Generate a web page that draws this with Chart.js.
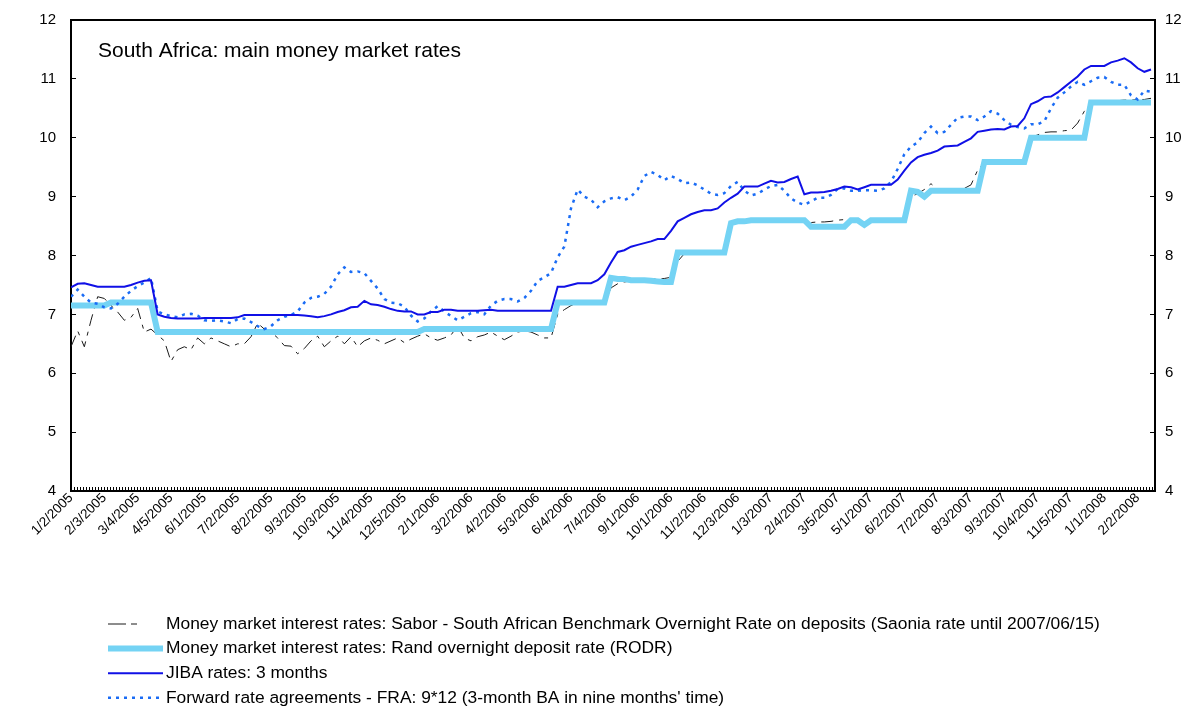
<!DOCTYPE html>
<html>
<head>
<meta charset="utf-8">
<script src="https://cdn.jsdelivr.net/npm/chart.js@4.4.0/dist/chart.umd.min.js"></script>
<style>
  html, body { margin: 0; padding: 0; background: #fff; }
  #wrap { width: 1188px; height: 707px; }
</style>
</head>
<body>
<div id="wrap"><canvas id="rates"></canvas></div>
<script>
// tick labels under the x axis (one every 5 weekly points)
const dateLabels = ["1/2/2005", "2/3/2005", "3/4/2005", "4/5/2005", "6/1/2005", "7/2/2005",
  "8/2/2005", "9/3/2005", "10/3/2005", "11/4/2005", "12/5/2005", "2/1/2006", "3/2/2006",
  "4/2/2006", "5/3/2006", "6/4/2006", "7/4/2006", "9/1/2006", "10/1/2006", "11/2/2006",
  "12/3/2006", "1/3/2007", "2/4/2007", "3/5/2007", "5/1/2007", "6/2/2007", "7/2/2007",
  "8/3/2007", "9/3/2007", "10/4/2007", "11/5/2007", "1/1/2008", "2/2/2008"];

const seriesNames = [
  "Money market interest rates: Sabor - South African Benchmark Overnight Rate on deposits (Saonia rate until 2007/06/15)",
  "Money market interest rates: Rand overnight deposit rate (RODR)",
  "JIBA rates: 3 months",
  "Forward rate agreements - FRA: 9*12 (3-month BA in nine months' time)"
];

const saborRate = [
  6.45, 6.72, 6.45, 6.9, 7.3, 7.27, 7.15, 7.04, 6.9, 6.95,
  7.1, 6.7, 6.75, 6.65, 6.55, 6.2, 6.4, 6.45, 6.4, 6.6,
  6.5, 6.6, 6.55, 6.5, 6.45, 6.5, 6.5, 6.62, 6.85, 6.75,
  6.7, 6.6, 6.47, 6.46, 6.33, 6.42, 6.55, 6.63, 6.45, 6.55,
  6.63, 6.5, 6.62, 6.45, 6.55, 6.6, 6.56, 6.5, 6.55, 6.6,
  6.52, 6.58, 6.63, 6.67, 6.6, 6.56, 6.6, 6.65, 6.8, 6.6,
  6.55, 6.62, 6.65, 6.7, 6.63, 6.57, 6.63, 6.7, 6.72, 6.7,
  6.65, 6.6, 6.6, 7.0, 7.08, 7.15, 7.2, 7.22, 7.23, 7.2,
  7.2, 7.45, 7.52, 7.55, 7.57, 7.57, 7.58, 7.6, 7.6, 7.61,
  7.63, 7.9, 8.03, 8.04, 8.05, 8.04, 8.05, 8.06, 8.05, 8.5,
  8.55, 8.58, 8.58, 8.6, 8.6, 8.6, 8.6, 8.59, 8.6, 8.6,
  8.58, 8.56, 8.57, 8.57, 8.58, 8.6, 8.61, 8.6, 8.58, 8.57,
  8.6, 8.6, 8.6, 8.6, 8.6, 8.6, 9.0, 9.05, 9.12, 9.22,
  9.12, 9.12, 9.12, 9.13, 9.14, 9.2, 9.45, 9.58, 9.6, 9.6,
  9.6, 9.6, 9.6, 9.62, 10.0, 10.05, 10.09, 10.1, 10.1, 10.12,
  10.13, 10.25, 10.45, 10.6, 10.62, 10.63, 10.63, 10.63, 10.64, 10.64,
  10.65, 10.65, 10.67
];

const rodrRate = [
  7.15, 7.15, 7.15, 7.15, 7.15, 7.15, 7.2, 7.2, 7.2, 7.2,
  7.2, 7.2, 7.2, 6.7, 6.7, 6.7, 6.7, 6.7, 6.7, 6.7,
  6.7, 6.7, 6.7, 6.7, 6.7, 6.7, 6.7, 6.7, 6.7, 6.7,
  6.7, 6.7, 6.7, 6.7, 6.7, 6.7, 6.7, 6.7, 6.7, 6.7,
  6.7, 6.7, 6.7, 6.7, 6.7, 6.7, 6.7, 6.7, 6.7, 6.7,
  6.7, 6.7, 6.7, 6.75, 6.75, 6.75, 6.75, 6.75, 6.75, 6.75,
  6.75, 6.75, 6.75, 6.75, 6.75, 6.75, 6.75, 6.75, 6.75, 6.75,
  6.75, 6.75, 6.75, 7.2, 7.2, 7.2, 7.2, 7.2, 7.2, 7.2,
  7.2, 7.62, 7.6, 7.6, 7.58, 7.58, 7.58, 7.57, 7.56, 7.55,
  7.55, 8.05, 8.05, 8.05, 8.05, 8.05, 8.05, 8.05, 8.05, 8.55,
  8.58, 8.58, 8.6, 8.6, 8.6, 8.6, 8.6, 8.6, 8.6, 8.6,
  8.6, 8.49, 8.49, 8.49, 8.49, 8.49, 8.49, 8.6, 8.6, 8.52,
  8.6, 8.6, 8.6, 8.6, 8.6, 8.6, 9.1, 9.08, 9.0, 9.1,
  9.1, 9.1, 9.1, 9.1, 9.1, 9.1, 9.1, 9.59, 9.59, 9.59,
  9.59, 9.59, 9.59, 9.59, 10.0, 10.0, 10.0, 10.0, 10.0, 10.0,
  10.0, 10.0, 10.0, 10.6, 10.6, 10.6, 10.6, 10.6, 10.6, 10.6,
  10.6, 10.6, 10.6
];

const jibaRate = [
  7.46, 7.52, 7.53, 7.5, 7.47, 7.47, 7.47, 7.47, 7.47, 7.5,
  7.54, 7.57, 7.58, 7.0, 6.96, 6.94, 6.93, 6.93, 6.93, 6.93,
  6.94, 6.94, 6.94, 6.94, 6.94, 6.95, 6.99, 6.99, 6.99, 6.99,
  6.99, 6.99, 6.99, 6.99, 6.99, 6.98, 6.97, 6.95, 6.97, 7.0,
  7.04, 7.07, 7.12, 7.13, 7.23, 7.17, 7.16, 7.13, 7.09, 7.06,
  7.05, 7.05, 7.0, 7.0, 7.04, 7.04, 7.08, 7.08, 7.06, 7.06,
  7.06, 7.06, 7.07, 7.08, 7.06, 7.06, 7.06, 7.06, 7.06, 7.06,
  7.06, 7.06, 7.06, 7.47, 7.47, 7.5, 7.53, 7.53, 7.53, 7.58,
  7.68, 7.88, 8.06, 8.09, 8.15, 8.18, 8.21, 8.24, 8.28, 8.28,
  8.42, 8.58, 8.64, 8.7, 8.74, 8.77, 8.77, 8.8, 8.9, 8.98,
  9.05, 9.17, 9.17, 9.17, 9.22, 9.27, 9.24, 9.25, 9.3, 9.34,
  9.04, 9.07, 9.07, 9.08, 9.1, 9.13, 9.17, 9.16, 9.12, 9.16,
  9.2, 9.2, 9.2, 9.2, 9.29, 9.44, 9.58, 9.67, 9.71, 9.74,
  9.78, 9.85, 9.86, 9.87, 9.93, 9.99, 10.1, 10.12, 10.14, 10.15,
  10.14, 10.19, 10.2, 10.33, 10.57, 10.62, 10.69, 10.7, 10.77, 10.86,
  10.95, 11.04, 11.16, 11.22, 11.22, 11.22, 11.28, 11.31, 11.35, 11.28,
  11.18, 11.12, 11.16
];

const fraRate = [
  7.3, 7.42, 7.3, 7.2, 7.18, 7.12, 7.1, 7.18, 7.3, 7.4,
  7.48, 7.54, 7.62, 7.05, 7.0, 6.97, 6.95, 7.0, 7.01, 6.98,
  6.9, 6.89, 6.9, 6.88, 6.85, 6.92, 6.93, 6.87, 6.8, 6.75,
  6.8, 6.9, 6.96, 6.99, 7.05, 7.2, 7.28, 7.3, 7.35, 7.47,
  7.68, 7.8, 7.72, 7.73, 7.7, 7.57, 7.44, 7.26, 7.2, 7.19,
  7.13, 6.98, 6.88, 6.93, 7.05, 7.14, 7.05, 6.97, 6.9, 6.96,
  7.02, 7.04, 7.0, 7.15, 7.23, 7.26, 7.26, 7.22, 7.28, 7.4,
  7.57, 7.63, 7.7, 7.97, 8.15, 8.8, 9.12, 9.0, 8.95, 8.82,
  8.92, 8.97, 8.99, 8.94, 9.0, 9.12, 9.35, 9.42, 9.37, 9.28,
  9.35, 9.3, 9.23, 9.24, 9.19, 9.12, 9.05, 9.03, 9.06, 9.18,
  9.25, 9.1, 9.02, 9.05, 9.12, 9.18, 9.2, 9.1, 8.97, 8.9,
  8.86, 8.92, 8.98, 8.98, 9.03, 9.13, 9.14, 9.1, 9.1, 9.11,
  9.11, 9.1, 9.14, 9.25, 9.47, 9.72, 9.85, 9.92, 10.08, 10.19,
  10.08, 10.1, 10.22, 10.34, 10.36, 10.36, 10.3, 10.36, 10.45, 10.41,
  10.3, 10.22, 10.18, 10.16, 10.23, 10.23, 10.28, 10.5, 10.68, 10.77,
  10.87, 10.95, 10.9, 10.96, 11.02, 11.03, 10.95, 10.9, 10.9, 10.72,
  10.65, 10.8, 10.78
];

const chartTitle = "South Africa: main money market rates";
const pointsPerLabel = 5;   // weekly points between two date labels
const ticksPerLabel = 11;   // small tick marks between two date labels
const fontFamily = "'Liberation Sans', Arial, sans-serif";

function toXY(values) {
  return values.map((v, i) => ({ x: i, y: v }));
}

// title inside the plot, box line on top, and the four-row legend below
const decorations = {
  id: "decorations",
  afterDraw(chart) {
    const ctx = chart.ctx;
    const area = chart.chartArea;
    ctx.save();
    ctx.strokeStyle = "#000";
    ctx.lineWidth = 2;
    ctx.beginPath();
    ctx.moveTo(area.left - 1, area.top);
    ctx.lineTo(area.right + 1, area.top);
    ctx.stroke();

    ctx.fillStyle = "#000";
    ctx.font = "21px " + fontFamily;
    ctx.textBaseline = "middle";
    ctx.fillText(chartTitle, 98, 51);

    ctx.font = "17.4px " + fontFamily;
    chart.data.datasets.forEach((ds, i) => {
      const y = 624 + i * 24.6;
      ctx.save();
      ctx.strokeStyle = ds.borderColor;
      ctx.lineWidth = ds.borderWidth;
      ctx.setLineDash(ds.legendDash || ds.borderDash || []);
      ctx.beginPath();
      ctx.moveTo(108, y);
      ctx.lineTo(163, y);
      ctx.stroke();
      ctx.restore();
      ctx.fillText(ds.label, 166, y);
    });
    ctx.restore();
  }
};

const axisFont = { family: fontFamily, size: 15 };

// vertical axes: keep the plot box where it is, ignore label overhang
function fixYAxis(width) {
  return (scale) => {
    scale.width = width;
    scale.paddingTop = 0;
    scale.paddingBottom = 0;
  };
}

new Chart(document.getElementById("rates"), {
  type: "line",
  data: {
    datasets: [
      {
        label: seriesNames[0],
        data: toXY(saborRate),
        borderColor: "#1a1a1a",
        borderWidth: 1,
        borderDash: [12, 6, 4, 6],
        legendDash: [18, 5, 6, 40],
        order: 4,
      },
      {
        label: seriesNames[1],
        data: toXY(rodrRate),
        borderColor: "#74d3f4",
        borderWidth: 6,
        order: 3,
      },
      {
        label: seriesNames[2],
        data: toXY(jibaRate),
        borderColor: "#1010e6",
        borderWidth: 2,
        order: 1,
      },
      {
        label: seriesNames[3],
        data: toXY(fraRate),
        borderColor: "#1a6cf5",
        borderWidth: 2.5,
        borderDash: [3, 5],
        order: 2,
      },
    ],
  },
  options: {
    responsive: true,
    maintainAspectRatio: false,
    animation: false,
    devicePixelRatio: 1,
    elements: {
      point: { radius: 0 },
      line: { tension: 0, borderCapStyle: "butt" },
    },
    layout: { padding: { top: 20, bottom: 96, left: 0, right: 0 } },
    plugins: {
      legend: { display: false },
      tooltip: { enabled: false },
    },
    scales: {
      x: {
        type: "linear",
        min: 0,
        max: 162.6,
        afterBuildTicks(scale) {
          const step = pointsPerLabel / ticksPerLabel;
          const ticks = [];
          for (let k = 0; k * step <= scale.max; k++) {
            ticks.push({ value: k * step });
          }
          scale.ticks = ticks;
        },
        afterFit(scale) {
          scale.height = 120;
        },
        grid: { drawOnChartArea: false, tickLength: -4, color: "#000", lineWidth: 1 },
        border: { color: "#000", width: 2 },
        ticks: {
          autoSkip: false,
          minRotation: 45,
          maxRotation: 45,
          padding: 3,
          color: "#000",
          font: { family: fontFamily, size: 13.5 },
          callback: (value, index) =>
            index % ticksPerLabel === 0 ? (dateLabels[index / ticksPerLabel] || "") : "",
        },
      },
      y: {
        position: "left",
        min: 4,
        max: 12,
        afterFit: fixYAxis(71),
        grid: { drawOnChartArea: false, tickLength: -5, color: "#000" },
        border: { color: "#000", width: 2 },
        ticks: { stepSize: 1, padding: 20, color: "#000", font: axisFont },
      },
      y2: {
        position: "right",
        min: 4,
        max: 12,
        afterFit: fixYAxis(33),
        grid: { drawOnChartArea: false, tickLength: -5, color: "#000" },
        border: { color: "#000", width: 2 },
        ticks: { stepSize: 1, padding: 15, color: "#000", font: axisFont },
      },
    },
  },
  plugins: [decorations],
});
</script>
</body>
</html>
